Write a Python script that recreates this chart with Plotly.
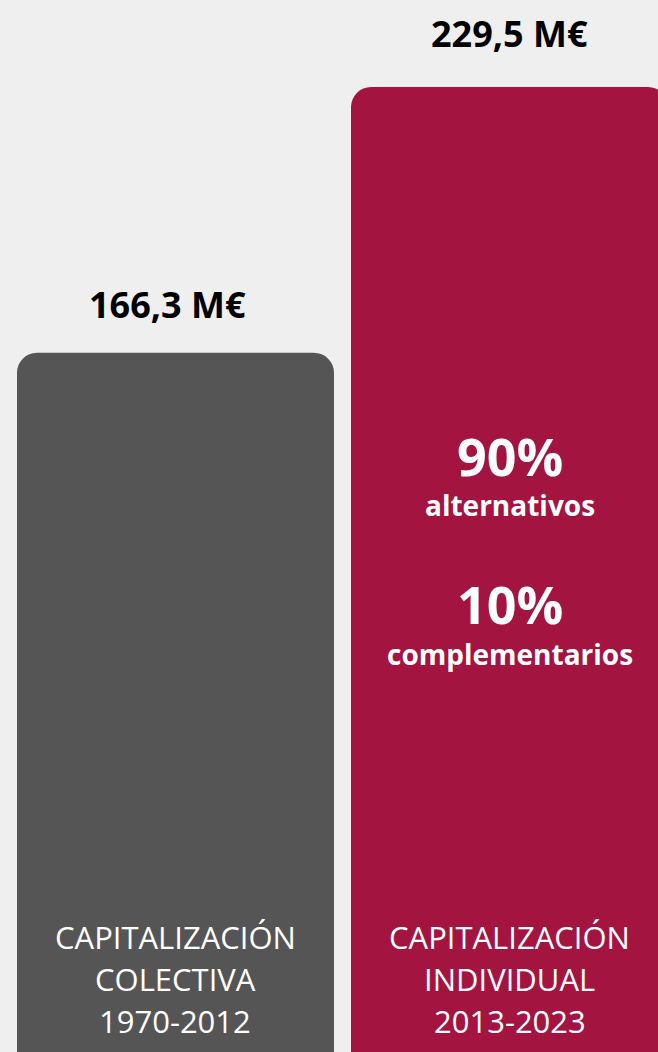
import plotly.graph_objects as go

categories = ["Capitalización colectiva", "Capitalización individual"]
values = [166.3, 229.5]
value_labels = ["166,3 M€", "229,5 M€"]
bar_colors = ["#555555", "#a31441"]
category_lines = [
    ["CAPITALIZACIÓN", "COLECTIVA", "1970-2012"],
    ["CAPITALIZACIÓN", "INDIVIDUAL", "2013-2023"],
]
share_values = ["90%", "10%"]
share_labels = ["alternativos", "complementarios"]

W, H = 658, 1052
FONT = "Open Sans"

fig = go.Figure()
fig.add_trace(go.Bar(
    x=list(range(len(categories))),
    y=values,
    width=0.949,
    marker=dict(color=bar_colors, line=dict(width=0)),
    hoverinfo="skip",
))

annotations = []
# value labels above bars (offsets in pixels above each bar top)
label_yshift = [48, 54]
label_xshift = [-8, 0]
for i, (v, lab) in enumerate(zip(values, value_labels)):
    annotations.append(dict(
        x=i, y=v, xref="x", yref="y", text=f"<b>{lab}</b>", showarrow=False,
        yanchor="middle", yshift=label_yshift[i], xshift=label_xshift[i],
        font=dict(family=FONT, size=36, color="#000000"),
    ))

# category text at bottom of bars
line_px = [937, 979, 1021]
for i, lines in enumerate(category_lines):
    for ly, t in zip(line_px, lines):
        annotations.append(dict(
            x=i, y=1 - ly / H, xref="x", yref="paper", text=t, showarrow=False,
            yanchor="middle", font=dict(family=FONT, size=31, color="white"),
        ))

# shares inside second bar
share_px = [(456, 505), (603, 654)]
for (py, ly), sv, sl in zip(share_px, share_values, share_labels):
    annotations.append(dict(
        x=1, y=1 - py / H, xref="x", yref="paper", text=f"<b>{sv}</b>", showarrow=False,
        yanchor="middle", font=dict(family=FONT, size=52, color="white"),
    ))
    annotations.append(dict(
        x=1, y=1 - ly / H, xref="x", yref="paper", text=f"<b>{sl}</b>", showarrow=False,
        yanchor="middle", font=dict(family=FONT, size=28, color="white"),
    ))

fig.update_layout(
    width=W, height=H,
    margin=dict(l=0, r=0, t=0, b=0),
    paper_bgcolor="#efefef", plot_bgcolor="#efefef",
    barcornerradius=20,
    showlegend=False,
    xaxis=dict(range=[-0.5254, 1.4446], visible=False, fixedrange=True),
    yaxis=dict(range=[0, 250.2], visible=False, fixedrange=True),
    annotations=annotations,
    font=dict(family=FONT),
)

fig.write_html(
    "out.html",
    config={"displayModeBar": False},
    post_script="document.body.style.margin='0';document.body.style.background='#efefef';",
)
